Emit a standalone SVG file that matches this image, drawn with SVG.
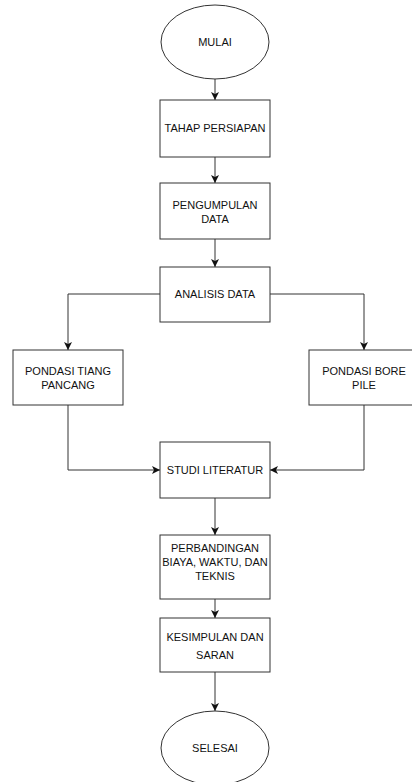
<svg xmlns="http://www.w3.org/2000/svg" width="412" height="782" viewBox="0 0 412 782">
<style>
.n{fill:#fff;stroke:#333;stroke-width:1}
.t{font-family:"Liberation Sans",Arial,sans-serif;font-size:11px;fill:#111;text-anchor:middle}
.c{fill:none;stroke:#333;stroke-width:1}
</style>
<defs>
<marker id="a" markerUnits="userSpaceOnUse" markerWidth="10" markerHeight="10" refX="8" refY="4" orient="auto">
<path d="M0,0 L8,4 L0,8 L2,4 z" fill="#111"/>
</marker>
</defs>
<rect width="412" height="782" fill="#fff"/>
<g id="connectors">
<path class="c" d="M215,79 V100" marker-end="url(#a)"/>
<path class="c" d="M215,157 V183" marker-end="url(#a)"/>
<path class="c" d="M215,239 V267" marker-end="url(#a)"/>
<path class="c" d="M160,294 H68 V350" marker-end="url(#a)"/>
<path class="c" d="M270,294 H364 V350" marker-end="url(#a)"/>
<path class="c" d="M68,405 V470 H160" marker-end="url(#a)"/>
<path class="c" d="M364,405 V470 H270" marker-end="url(#a)"/>
<path class="c" d="M215,498 V535" marker-end="url(#a)"/>
<path class="c" d="M215,599 V618" marker-end="url(#a)"/>
<path class="c" d="M215,672 V711" marker-end="url(#a)"/>
</g>
<g id="mulai"><ellipse class="n" cx="215" cy="42" rx="54" ry="37"/><text class="t" x="215" y="46">MULAI</text></g>
<g id="tahap"><rect class="n" x="160" y="100" width="110" height="57"/><text class="t" x="215" y="132">TAHAP PERSIAPAN</text></g>
<g id="pengumpulan"><rect class="n" x="160" y="183" width="110" height="56"/><text class="t" x="215" y="209">PENGUMPULAN</text><text class="t" x="215" y="223">DATA</text></g>
<g id="analisis"><rect class="n" x="160" y="267" width="110" height="55"/><text class="t" x="215" y="298">ANALISIS DATA</text></g>
<g id="tiang"><rect class="n" x="13" y="350" width="110" height="55"/><text class="t" x="68" y="375">PONDASI TIANG</text><text class="t" x="68" y="389">PANCANG</text></g>
<g id="bore"><rect class="n" x="309" y="350" width="110" height="55"/><text class="t" x="364" y="375">PONDASI BORE</text><text class="t" x="364" y="389">PILE</text></g>
<g id="studi"><rect class="n" x="160" y="442" width="110" height="56"/><text class="t" x="215" y="474">STUDI LITERATUR</text></g>
<g id="perbandingan"><rect class="n" x="160" y="535" width="110" height="64"/><text class="t" x="215" y="552">PERBANDINGAN</text><text class="t" x="215" y="566">BIAYA, WAKTU, DAN</text><text class="t" x="215" y="580">TEKNIS</text></g>
<g id="kesimpulan"><rect class="n" x="160" y="618" width="110" height="54"/><text class="t" x="215" y="641">KESIMPULAN DAN</text><text class="t" x="215" y="659">SARAN</text></g>
<g id="selesai"><ellipse class="n" cx="215" cy="748" rx="54" ry="37"/><text class="t" x="215" y="752">SELESAI</text></g>
</svg>
